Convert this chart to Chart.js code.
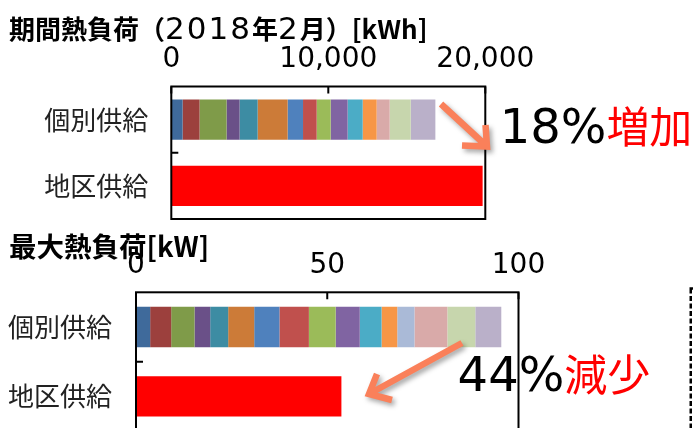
<!DOCTYPE html>
<html lang="ja">
<head>
<meta charset="utf-8">
<script src="https://cdn.jsdelivr.net/npm/chart.js@4.4.1/dist/chart.umd.min.js"></script>
<style>
html,body{margin:0;padding:0;width:693px;height:428px;overflow:hidden;background:#fff;}
#wrap{position:relative;width:693px;height:428px;overflow:hidden;}
canvas{position:absolute;left:0;top:0;}
.t{position:absolute;white-space:nowrap;line-height:1;color:#000;margin:0;}
.ttl{font-family:'Noto Sans CJK JP';font-weight:700;}
.d{font-family:'DejaVu Sans';font-weight:400;font-size:31px;line-height:0;letter-spacing:2px;}
.ann{font-family:'DejaVu Sans';font-size:48px;font-weight:400;}
.r{color:#FF0000;font-family:'Noto Sans CJK JP';font-size:43px;line-height:0;}
</style>
</head>
<body>
<div id="wrap">
  <canvas id="c1" width="693" height="428"></canvas>
  <canvas id="c2" width="693" height="480"></canvas>
  <div class="t ttl" style="left:9px;top:14.5px;font-size:26px;">期間熱負荷（<span class="d">2018</span>年<span class="d">2</span>月）[kWh]</div>
  <div class="t ttl" style="left:9px;top:231.5px;font-size:27.5px;">最大熱負荷[kW]</div>
  <div class="t ann" style="left:499.7px;top:102.4px;">18%<span class="r">増加</span></div>
  <div class="t ann" style="left:457.6px;top:350.4px;">44%<span class="r">減少</span></div>
</div>
<script>
// ---- data ----
const categories = ['個別供給', '地区供給'];
const seriesNames = ['系列1','系列2','系列3','系列4','系列5','系列6','系列7','系列8','系列9','系列10','系列11','系列12','系列13','系列14','系列15','系列16'];
// 期間熱負荷（2018年2月）[kWh]
const periodIndividual = [720, 1080, 1720, 830, 1150, 1910, 980, 870, 890, 1080, 960, 890, 0, 830, 1340, 1570];
const periodDistrict = 19830;
const periodTicks = [0, 10000, 20000];
// 最大熱負荷[kW]
const peakIndividual = [3.7, 5.5, 6.1, 4.1, 4.7, 6.8, 6.6, 7.7, 7.0, 6.3, 5.7, 4.1, 4.5, 8.6, 7.3, 6.8];
const peakDistrict = 53.7;
const peakTicks = [0, 50, 100];

// ---- styles ----
const segmentColors = ['#3F6A9B','#9C403D','#7F9B49','#6A5088','#3D8CA3','#CC7B38','#4F81BD','#C0504D','#9BBB59','#8064A2','#4BACC6','#F79646','#AABAD7','#D9AAA9','#C7D6AD','#BAB0C9'];
const districtColor = '#FF0000';

function drawArrow(ctx, a) {
  ctx.save();
  ctx.strokeStyle = 'rgb(250,128,90)';
  ctx.lineWidth = 6.5;
  ctx.lineCap = 'butt';
  ctx.lineJoin = 'miter';
  ctx.shadowColor = 'rgba(0,0,0,0.35)';
  ctx.shadowBlur = 5;
  ctx.shadowOffsetX = 2.5;
  ctx.shadowOffsetY = 3;
  ctx.beginPath();
  ctx.moveTo(a.from[0], a.from[1]);
  ctx.lineTo(a.tip[0], a.tip[1]);
  ctx.moveTo(a.arm1[0], a.arm1[1]);
  ctx.lineTo(a.tip[0], a.tip[1]);
  ctx.lineTo(a.arm2[0], a.arm2[1]);
  ctx.stroke();
  ctx.restore();
}

const framePlugin = {
  id: 'frame',
  afterDraw(chart, args, opts) {
    const {ctx, chartArea: a, scales: {x, y}} = chart;
    ctx.save();
    ctx.strokeStyle = '#000';
    ctx.lineWidth = 2;
    ctx.strokeRect(a.left, a.top, a.right - a.left, a.bottom - a.top);
    ctx.beginPath();
    x.ticks.forEach(t => {
      const px = x.getPixelForValue(t.value);
      ctx.moveTo(px, a.top); ctx.lineTo(px, a.top + 7);
    });
    for (let i = 1; i < categories.length; i++) {
      const py = (y.getPixelForValue(i - 1) + y.getPixelForValue(i)) / 2;
      ctx.moveTo(a.left, py); ctx.lineTo(a.left + 7, py);
    }
    ctx.stroke();
    ctx.restore();
    if (opts.arrow) drawArrow(ctx, opts.arrow);
    if (opts.dashed) {
      ctx.save();
      ctx.strokeStyle = '#000';
      ctx.lineWidth = 2.5;
      ctx.setLineDash([5, 2.5]);
      ctx.beginPath();
      ctx.moveTo(690.75, 288.5); ctx.lineTo(690.75, 440);
      ctx.moveTo(689.5, 288.5); ctx.lineTo(693, 288.5);
      ctx.stroke();
      ctx.restore();
    }
  }
};

function buildDatasets(individual, district, barPct) {
  const ds = individual.map((v, i) => ({
    label: seriesNames[i],
    data: [v, null],
    backgroundColor: segmentColors[i],
    borderWidth: 0,
    barPercentage: barPct,
    categoryPercentage: 1,
    stack: 's'
  }));
  ds.push({
    label: categories[1],
    data: [null, district],
    backgroundColor: districtColor,
    borderWidth: 0,
    barPercentage: barPct,
    categoryPercentage: 1,
    stack: 's'
  });
  return ds;
}

function buildOptions(o) {
  return {
    indexAxis: 'y',
    responsive: false,
    animation: false,
    devicePixelRatio: 1,
    layout: {padding: {left: 0, top: 0, right: o.padRight, bottom: o.padBottom}},
    plugins: {
      legend: {display: false},
      tooltip: {enabled: false},
      title: {display: false},
      frame: {arrow: o.arrow, dashed: o.dashed}
    },
    scales: {
      x: {
        position: 'top',
        stacked: true,
        min: 0,
        max: o.max,
        afterBuildTicks: s => { s.ticks = o.ticks.map(v => ({value: v})); },
        afterFit: s => { s.height = o.axisHeight; },
        grid: {display: false, drawTicks: false},
        border: {display: false},
        ticks: {
          padding: o.tickPad,
          maxRotation: 0,
          autoSkip: false,
          color: '#000',
          font: {family: "'DejaVu Sans'", size: 28},
          callback: v => Number(v).toLocaleString('en-US')
        }
      },
      y: {
        stacked: true,
        afterFit: s => { s.width = o.axisWidth; },
        grid: {display: false, drawTicks: false},
        border: {display: false},
        ticks: {
          padding: o.labelPad,
          color: '#222',
          font: {family: "'Noto Sans CJK JP'", size: 26}
        }
      }
    }
  };
}

new Chart(document.getElementById('c1'), {
  type: 'bar',
  data: {labels: categories, datasets: buildDatasets(periodIndividual, periodDistrict, 0.604)},
  options: buildOptions({
    padRight: 693 - 485.3, padBottom: 428 - 219, max: 20000, ticks: periodTicks,
    axisHeight: 86.5, axisWidth: 171.3, tickPad: 10, labelPad: 23,
    arrow: {from: [441, 104], tip: [487, 146.5], arm1: [485.5, 125], arm2: [462, 145.5]},
    dashed: false
  }),
  plugins: [framePlugin]
});

new Chart(document.getElementById('c2'), {
  type: 'bar',
  data: {labels: categories, datasets: buildDatasets(peakIndividual, peakDistrict, 0.582)},
  options: buildOptions({
    padRight: 693 - 518.5, padBottom: 480 - 431, max: 100, ticks: peakTicks,
    axisHeight: 292.3, axisWidth: 136, tickPad: 10, labelPad: 24,
    arrow: {from: [462, 343], tip: [369, 394], arm1: [377, 374], arm2: [392, 400]},
    dashed: true
  }),
  plugins: [framePlugin]
});
</script>
</body>
</html>
